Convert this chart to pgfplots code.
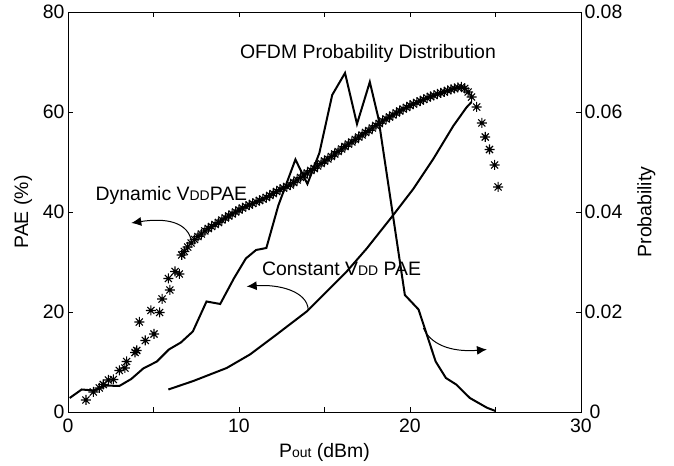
\documentclass[border=0pt]{standalone}
\usepackage{pgfplots}
\pgfplotsset{compat=1.18}
\usepackage{fontspec}
\setmainfont{Liberation Sans}
\usetikzlibrary{arrows.meta}
\pgfdeclareplotmark{mstar}{%
  \pgfpathmoveto{\pgfpoint{-\pgfplotmarksize}{0pt}}\pgfpathlineto{\pgfpoint{\pgfplotmarksize}{0pt}}%
  \pgfpathmoveto{\pgfpoint{0pt}{-\pgfplotmarksize}}\pgfpathlineto{\pgfpoint{0pt}{\pgfplotmarksize}}%
  \pgfpathmoveto{\pgfpoint{-0.707\pgfplotmarksize}{-0.707\pgfplotmarksize}}\pgfpathlineto{\pgfpoint{0.707\pgfplotmarksize}{0.707\pgfplotmarksize}}%
  \pgfpathmoveto{\pgfpoint{-0.707\pgfplotmarksize}{0.707\pgfplotmarksize}}\pgfpathlineto{\pgfpoint{0.707\pgfplotmarksize}{-0.707\pgfplotmarksize}}%
  \pgfusepathqstroke}
\newcommand{\fs}{\fontsize{19.5}{22}\selectfont}
\newcommand{\sm}[1]{{\fontsize{14}{14}\selectfont #1}}
\begin{document}
\begin{tikzpicture}[font=\fs]
\begin{axis}[name=ax, scale only axis, width=513bp, height=400bp,
  xmin=0, xmax=30, ymin=0, ymax=80,
  xtick={0,5,...,30}, xticklabels={0,,10,,20,,30},
  ytick={0,20,...,80}, ytick pos=left, xtick pos=both,
  tick align=inside, major tick length=5bp,
  axis line style={line width=0.8bp}, every tick/.style={line width=0.8bp, black},
  tick label style={font=\fs}, label style={font=\fs},
  xticklabel style={yshift=-3bp},
  /pgf/number format/assume math mode=true,
  xlabel={P\sm{out} (dBm)}, ylabel={PAE (\%)},
  xlabel style={yshift=-4bp}, ylabel style={yshift=4bp},
  clip=false]
% Dynamic VDD PAE
\addplot[only marks, mark=mstar, mark size=5bp, mark options={line width=1.1bp}] coordinates {
(1.05,2.4)(1.48,4.0)(1.83,4.8)(2.06,5.5)(2.36,6.4)(2.65,6.5)(3.0,8.3)(3.33,8.8)(3.43,10.1)
(3.92,11.9)(4.02,12.3)(4.17,18.0)(4.52,14.3)(4.85,20.3)(5.03,15.6)(5.36,19.9)(5.5,22.6)
(5.87,26.7)(5.96,24.4)(6.26,28.1)(6.51,27.6)(6.65,31.4)
(6.8,32.1)(7.0,33.0)(7.2,33.8)(7.4,34.5)(7.6,35.1)(7.8,35.6)(8.0,36.2)(8.2,36.7)(8.4,37.1)
(8.6,37.5)(8.8,37.9)(9.0,38.4)(9.2,38.8)(9.4,39.2)(9.6,39.6)(9.8,40.0)(10.0,40.4)(10.2,40.8)
(10.4,41.1)(10.6,41.4)(10.8,41.7)(11.0,42.0)(11.2,42.3)(11.4,42.6)(11.6,42.9)(11.8,43.3)
(12.0,43.7)(12.2,44.1)(12.4,44.5)(12.6,44.8)(12.8,45.1)(13.0,45.4)(13.2,45.9)(13.4,46.4)
(13.6,46.9)(13.8,47.4)(14.0,47.8)(14.2,48.3)(14.4,48.7)(14.6,49.2)(14.8,49.7)(15.0,50.2)
(15.2,50.6)(15.4,51.1)(15.6,51.6)(15.8,52.1)(16.0,52.6)(16.2,53.1)(16.4,53.6)(16.6,54.0)
(16.8,54.5)(17.0,55.0)(17.2,55.4)(17.4,55.9)(17.6,56.3)(17.8,56.8)(18.0,57.3)(18.2,57.7)
(18.4,58.2)(18.6,58.6)(18.8,59.0)(19.0,59.4)(19.2,59.8)(19.4,60.2)(19.6,60.6)(19.8,60.9)
(20.0,61.3)(20.2,61.6)(20.4,61.9)(20.6,62.2)(20.8,62.5)(21.0,62.8)(21.2,63.1)(21.4,63.3)
(21.6,63.6)(21.8,63.8)(22.0,64.0)(22.2,64.3)(22.4,64.5)(22.6,64.7)(22.8,64.9)(23.0,65.0)
(23.2,64.7)(23.4,64.0)(23.6,63.0)(23.9,61.0)(24.2,57.8)(24.4,55.0)(24.65,52.5)(24.95,49.4)(25.15,45.0)
};
% Constant VDD PAE
\addplot[line width=2bp, black] coordinates {
(5.87,4.5)(7.33,6.2)(9.28,8.8)(10.64,11.5)(12.2,15.5)(13.96,20.1)(15.13,24.1)(16.3,28.1)
(17.47,32.7)(19.0,39.3)(20.19,44.6)(21.36,50.6)(22.53,57.2)(23.3,60.9)(23.6,62.0)
};
% annotations
\node at (axis cs:17.54,71.8) {OFDM Probability Distribution};
\node at (axis cs:6.05,43.4) {Dynamic V\sm{DD}PAE};
\node at (axis cs:16.0,28.7) {Constant V\sm{DD} PAE};
\draw[line width=1bp, -{Latex[length=10bp,width=9bp]}] (axis cs:7.25,33.6) .. controls (axis cs:7.1,38.3) and (axis cs:5.6,38.8) .. (axis cs:3.7,37.8);
\draw[line width=1bp, -{Latex[length=10bp,width=9bp]}] (axis cs:14.05,20.4) .. controls (axis cs:14.0,24.2) and (axis cs:12.3,25.6) .. (axis cs:10.45,25.1);
\draw[line width=1bp, -{Latex[length=10bp,width=9bp]}] (axis cs:20.78,16.8) .. controls (axis cs:21.3,12.8) and (axis cs:22.8,12.0) .. (axis cs:24.5,12.5);
\end{axis}
\begin{axis}[scale only axis, width=513bp, height=400bp,
  xmin=0, xmax=30, ymin=0, ymax=0.08,
  axis x line=none, axis y line*=right,
  ytick={0,0.02,0.04,0.06,0.08}, yticklabels={\hspace*{5bp}0,0.02,0.04,0.06,0.08},
  tick align=inside, major tick length=5bp,
  axis line style={line width=0.8bp, -}, every tick/.style={line width=0.8bp, black},
  tick label style={font=\fs}, label style={font=\fs},
  ylabel={Probability}, ylabel style={yshift=-8bp}]
\addplot[line width=2bp, black] coordinates {
(0.1,0.0028)(0.8,0.0045)(1.5,0.0043)(2.2,0.0053)(3.0,0.0052)(3.7,0.0066)(4.4,0.0087)
(5.2,0.0101)(5.9,0.0125)(6.6,0.0139)(7.3,0.0161)(8.1,0.0221)(8.9,0.0216)(9.7,0.0267)
(10.4,0.0307)(11.0,0.0324)(11.6,0.0328)(12.3,0.0413)(13.3,0.0505)(14.0,0.0456)(14.7,0.0518)
(15.45,0.0634)(16.2,0.0678)(16.9,0.0576)(17.65,0.0660)(18.15,0.0588)(19.7,0.0234)
(20.5,0.0205)(21.5,0.0101)(22.1,0.0068)(22.7,0.0055)(23.5,0.0028)(24.5,0.00085)(25.0,0.0002)
};
\end{axis}
\pgfresetboundingbox
\path ([xshift=-68bp,yshift=-54bp]ax.south west) rectangle ([xshift=93bp,yshift=12bp]ax.north east);
\end{tikzpicture}
\end{document}
